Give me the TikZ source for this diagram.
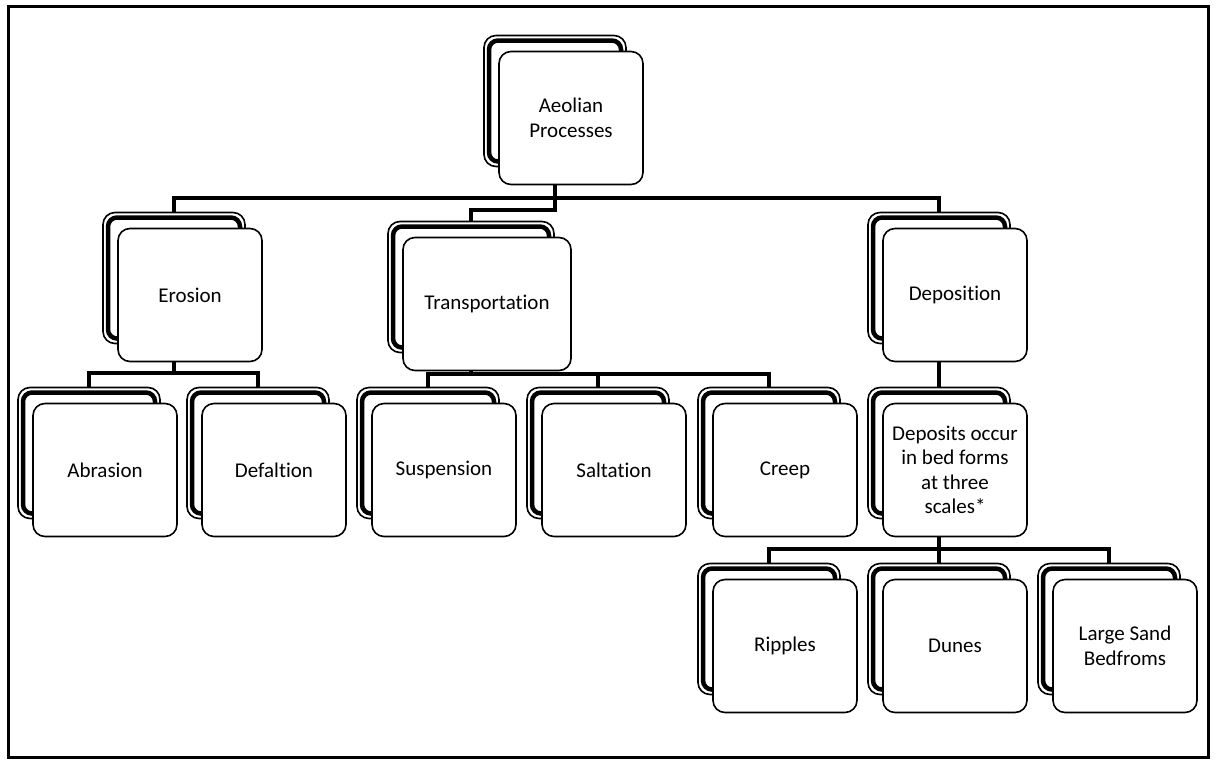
\documentclass[tikz,border=0pt]{standalone}
\usepackage{fontspec}
\setmainfont[Ligatures=NoCommon]{Carlito}
\usetikzlibrary{calc}

\begin{document}
\begin{tikzpicture}[
  x=1pt,y=-1pt,
  procbox/.style={rectangle,rounded corners=12pt,draw=black,line width=1.6pt,fill=white,
    minimum height=133pt,inner sep=4pt,align=center,font=\fontsize{21}{24.5}\selectfont},
  backbox/.style={rectangle,rounded corners=12pt,draw=black,line width=1.6pt,fill=white,minimum height=131pt},
  backband/.style={rectangle,rounded corners=9pt,draw=black,line width=4.5pt,inner sep=0pt,minimum height=121pt},
  link/.style={line width=3.8pt}
]

\useasboundingbox (0,0) rectangle (1216,764);
\draw[line width=3pt] (8,6) rectangle (1208,757);

% the boxes: name / x / y / width / text
\foreach \n/\x/\y/\w/\t in {
  aeo/571/118/144/{Aeolian\\Processes},
  ero/190/295/144/Erosion,
  tra/487/304/168/Transportation,
  dep/955/295/144/Deposition,
  abr/105/470/144/Abrasion,
  def/274/470/144/Defaltion,
  sus/444/470/144/Suspension,
  sal/614/470/144/Saltation,
  cre/785/470/144/Creep,
  dps/955/470/144/{Deposits occur\\in bed forms\\at three\\scales*},
  rip/785/646/144/Ripples,
  dun/955/646/144/Dunes,
  lsb/1125/646/144/{Large Sand\\Bedfroms}}
{
  \node[backbox,minimum width={(\w-2)*1pt}] (\n-b) at (\x-16,\y-17) {};
  \node[backband,minimum width={(\w-12)*1pt}] (\n-s) at (\n-b) {};
  \node[procbox,minimum width={\w*1pt}] (\n) at (\x,\y) {\t};
}

% connectors
\coordinate (rootbus) at (555,198);
\draw[link] (aeo-b.center |- aeo.south) -- (rootbus);
\draw[link] (ero-b.north) |- (rootbus) -| (dep-b.north);
\draw[link] (rootbus) -- ++(0,12) -| (tra-b.north);

\draw[link] (ero-b.center |- ero.south) -- ++(0,11) coordinate (erobus);
\draw[link] (abr-b.north) |- (erobus) -| (def-b.north);

\draw[link] (tra-b.center |- tra.south) -- ++(0,3) coordinate (trabus);
\draw[link] (sus-b.north) |- (trabus) -| (cre-b.north);
\draw[link] (sal-b.north) -- (sal-b.north |- trabus);

\draw[link] (dep-b.center |- dep.south) -- (dps-b.north);

\draw[link] (dps-b.center |- dps.south) -- ++(0,12) coordinate (dpsbus);
\draw[link] (rip-b.north) |- (dpsbus) -| (lsb-b.north);
\draw[link] (dpsbus) -- (dun-b.north);

\end{tikzpicture}
\end{document}
